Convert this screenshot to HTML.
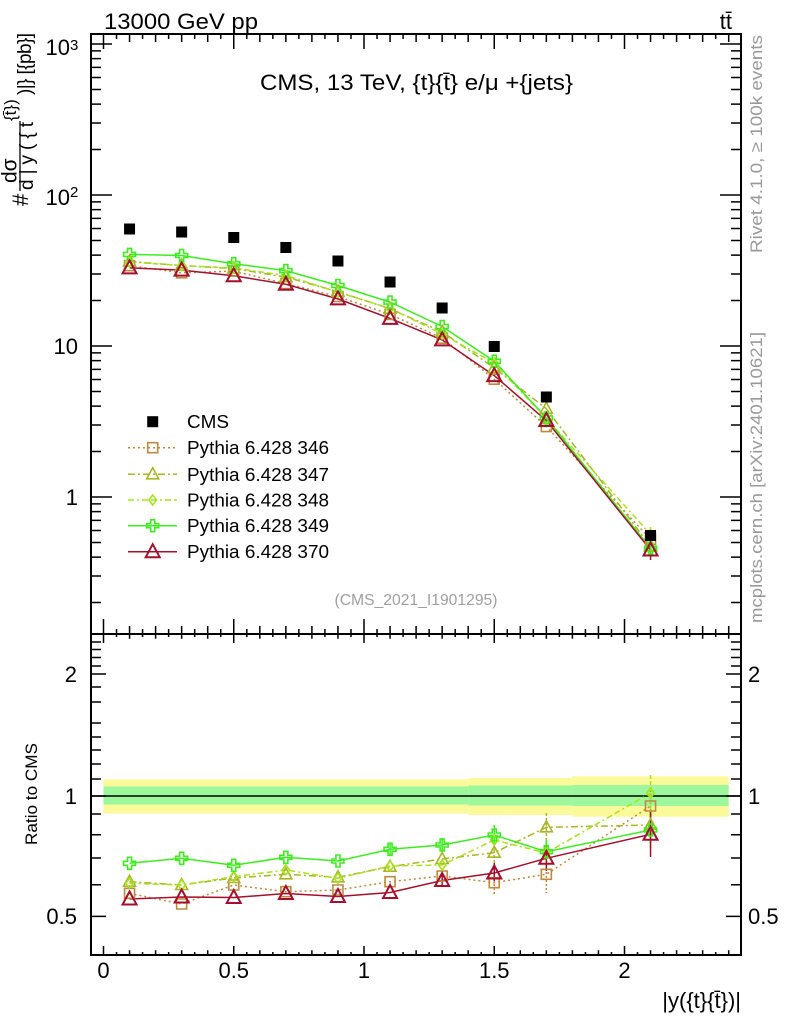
<!DOCTYPE html>
<html><head><meta charset="utf-8">
<style>
html,body{margin:0;padding:0;background:#fff}
svg{display:block}
text{font-family:"Liberation Sans",Arial,sans-serif}
</style></head>
<body>
<svg width="786" height="1024" viewBox="0 0 786 1024" xmlns="http://www.w3.org/2000/svg" xmlns:xlink="http://www.w3.org/1999/xlink">
<defs>
<path id="xt" d="M103.5 0v15M233.75 0v15M364 0v15M494.25 0v15M624.5 0v15M129.55 0v8M155.6 0v8M181.65 0v8M207.7 0v8M259.8 0v8M285.85 0v8M311.9 0v8M337.95 0v8M390.05 0v8M416.1 0v8M442.15 0v8M468.2 0v8M520.3 0v8M546.35 0v8M572.4 0v8M598.45 0v8M650.55 0v8M676.6 0v8M702.65 0v8M728.7 0v8M116.53 0v5M142.58 0v5M168.63 0v5M194.68 0v5M220.73 0v5M246.78 0v5M272.83 0v5M298.88 0v5M324.93 0v5M350.98 0v5M377.03 0v5M403.08 0v5M429.13 0v5M455.18 0v5M481.23 0v5M507.28 0v5M533.33 0v5M559.38 0v5M585.43 0v5M611.48 0v5M637.53 0v5M663.58 0v5M689.63 0v5M715.68 0v5" stroke="#000" stroke-width="1.5" fill="none"/>
<path id="yt" d="M0 44h21M0 195h21M0 346h21M0 497h21M0 50.91h10M0 58.63h10M0 67.39h10M0 77.5h10M0 89.46h10M0 104.09h10M0 122.95h10M0 149.55h10M0 201.91h10M0 209.63h10M0 218.39h10M0 228.5h10M0 240.46h10M0 255.09h10M0 273.95h10M0 300.55h10M0 352.91h10M0 360.63h10M0 369.39h10M0 379.5h10M0 391.46h10M0 406.09h10M0 424.95h10M0 451.55h10M0 503.91h10M0 511.63h10M0 520.39h10M0 530.5h10M0 542.46h10M0 557.09h10M0 575.95h10M0 602.55h10" stroke="#000" stroke-width="1.5" fill="none"/>
<path id="rt" d="M0 674h15M0 796h15M0 916.4h15M0 642h10M0 649.5h10M0 657.5h10M0 666h10M0 687h10M0 702h10M0 723h10M0 737h10M0 750h10M0 764h10M0 779h10M0 814h10M0 834.8h10M0 858h10M0 884.7h10" stroke="#000" stroke-width="1.5" fill="none"/>
<path id="mcms" d="M-5.5 -5.5h11v11h-11z" fill="#000"/>
<path id="m346" d="M-5 -5h10v10h-10z" fill="none" stroke="#bd8a3e" stroke-width="1.6"/>
<path id="m347" d="M0 -6.5L6 4.5L-6 4.5Z" fill="none" stroke="#a9b524" stroke-width="1.6"/>
<path id="m348" d="M0 -5L3.8 0L0 5L-3.8 0Z" fill="none" stroke="#a6e31e" stroke-width="1.6"/>
<path id="m349" d="M-2 -6h4v4h4v4h-4v4h-4v-4h-4v-4h4z" fill="none" stroke="#3ced1e" stroke-width="1.6"/>
<path id="m370" d="M0 -7.5L7 5.5L-7 5.5Z" fill="none" stroke="#a50f2d" stroke-width="2"/>
</defs>

<rect x="0" y="0" width="786" height="1024" fill="#fff"/>

<!-- ratio bands -->
<rect x="103.5" y="779.3" width="364.7" height="34.2" fill="#fbfa9a"/>
<rect x="468.2" y="778" width="104.2" height="37" fill="#fbfa9a"/>
<rect x="572.4" y="776.3" width="156.3" height="40.4" fill="#fbfa9a"/>
<rect x="103.5" y="786.5" width="364.7" height="18" fill="#9df79d"/>
<rect x="468.2" y="785.5" width="104.2" height="20" fill="#9df79d"/>
<rect x="572.4" y="785" width="156.3" height="21" fill="#9df79d"/>
<line x1="91" y1="796" x2="741" y2="796" stroke="#000" stroke-width="1.5"/>

<!-- frames -->
<rect x="91" y="34" width="650" height="600" fill="none" stroke="#000" stroke-width="2"/>
<rect x="91" y="634" width="650" height="321" fill="none" stroke="#000" stroke-width="2"/>

<!-- ticks -->
<use href="#xt" xlink:href="#xt" transform="translate(0,34)"/>
<use href="#xt" xlink:href="#xt" transform="translate(0,634) scale(1,-1)"/>
<use href="#xt" xlink:href="#xt" transform="translate(0,634) scale(1,0.6)"/>
<use href="#xt" xlink:href="#xt" transform="translate(0,955) scale(1,-0.6)"/>
<use href="#yt" xlink:href="#yt" transform="translate(91,0)"/>
<use href="#yt" xlink:href="#yt" transform="translate(741,0) scale(-1,1)"/>
<use href="#rt" xlink:href="#rt" transform="translate(91,0)"/>
<use href="#rt" xlink:href="#rt" transform="translate(741,0) scale(-1,1)"/>

<!-- tick labels -->
<g font-size="22" fill="#000">
<text x="70" y="55" text-anchor="end">10</text><text x="70" y="50" font-size="15">3</text>
<text x="70" y="205" text-anchor="end">10</text><text x="70" y="197" font-size="15">2</text>
<text x="78" y="354" text-anchor="end">10</text>
<text x="78" y="505" text-anchor="end">1</text>
<text x="77" y="682" text-anchor="end">2</text>
<text x="77" y="804" text-anchor="end">1</text>
<text x="77" y="924" text-anchor="end">0.5</text>
<text x="748" y="682">2</text>
<text x="748" y="804">1</text>
<text x="748" y="924">0.5</text>
<text x="103.5" y="978" text-anchor="middle">0</text>
<text x="233.75" y="978" text-anchor="middle">0.5</text>
<text x="364" y="978" text-anchor="middle">1</text>
<text x="494.25" y="978" text-anchor="middle">1.5</text>
<text x="624.5" y="978" text-anchor="middle">2</text>
<text x="741" y="1008" text-anchor="end">|y({t}{t̄})|</text>
</g>

<!-- titles -->
<text x="104" y="29" font-size="22" textLength="154" lengthAdjust="spacingAndGlyphs">13000 GeV pp</text>
<text x="732" y="29" font-size="22" text-anchor="end">tt̄</text>
<text x="260" y="90" font-size="22" textLength="313" lengthAdjust="spacingAndGlyphs">CMS, 13 TeV, {t}{t̄} e/μ +{jets}</text>
<text x="416" y="605" font-size="16" fill="#a0a0a0" text-anchor="middle" textLength="163" lengthAdjust="spacingAndGlyphs">(CMS_2021_I1901295)</text>

<!-- side texts -->
<text transform="translate(762,253) rotate(-90)" font-size="17" fill="#999" textLength="218" lengthAdjust="spacingAndGlyphs">Rivet 4.1.0, ≥ 100k events</text>
<text transform="translate(762,623) rotate(-90)" font-size="17" fill="#999" textLength="291" lengthAdjust="spacingAndGlyphs">mcplots.cern.ch [arXiv:2401.10621]</text>

<!-- y label main -->
<g transform="translate(0,207) rotate(-90)" fill="#000">
<text x="1" y="28" font-size="22">#</text>
<text x="24" y="16.5" font-size="21">dσ</text>
<line x1="16" y1="20" x2="86" y2="20" stroke="#000" stroke-width="1.3"/>
<text x="17" y="33" font-size="19" textLength="68" lengthAdjust="spacing">d|y({t</text>
<text x="86" y="16" font-size="17">{t̄})</text>
<text x="112" y="31" font-size="19" textLength="62" lengthAdjust="spacing">)|} [{pb}]</text>
</g>
<text transform="translate(37,794) rotate(-90)" font-size="17" text-anchor="middle" textLength="102" lengthAdjust="spacingAndGlyphs">Ratio to CMS</text>

<!-- main panel series -->
<g fill="none" stroke-width="1.5">
<polyline points="129.55,265.7 181.65,272.8 233.75,271.1 285.85,283.6 337.95,296.5 390.05,314.4 442.15,338.2 494.25,379.2 546.35,426.6 650.55,539.3" stroke="#bd8a3e" stroke-dasharray="2,3"/>
<polyline points="129.55,261.4 181.65,265.6 233.75,268.5 285.85,277.1 337.95,291.7 390.05,308.7 442.15,331.8 494.25,367.9 546.35,408.8 650.55,546.4" stroke="#a9b524" stroke-dasharray="7,3,2,3"/>
<polyline points="129.55,262 181.65,265.6 233.75,268 285.85,275.4 337.95,292.1 390.05,308.4 442.15,334 494.25,363.1 546.35,418.5 650.55,534.4" stroke="#a6e31e" stroke-dasharray="6,3,2,3,6,3"/>
<polyline points="129.55,254.4 181.65,255.5 233.75,263.7 285.85,270.6 337.95,285.5 390.05,302.1 442.15,326.5 494.25,361.2 546.35,418 650.55,548.3" stroke="#3ced1e"/>
<polyline points="129.55,267.9 181.65,270.1 233.75,275.8 285.85,284.3 337.95,298.9 390.05,318.4 442.15,339.9 494.25,375.6 546.35,420.5 650.55,550" stroke="#a50f2d"/>
<path d="M650.55 540v20" stroke="#a50f2d"/>
<path d="M650.55 542v13" stroke="#3ced1e"/>
<path d="M650.55 527v14" stroke="#a6e31e"/>
</g>
<g>
<use href="#m346" xlink:href="#m346" x="129.55" y="265.7"/><use href="#m346" xlink:href="#m346" x="181.65" y="272.8"/><use href="#m346" xlink:href="#m346" x="233.75" y="271.1"/><use href="#m346" xlink:href="#m346" x="285.85" y="283.6"/><use href="#m346" xlink:href="#m346" x="337.95" y="296.5"/><use href="#m346" xlink:href="#m346" x="390.05" y="314.4"/><use href="#m346" xlink:href="#m346" x="442.15" y="338.2"/><use href="#m346" xlink:href="#m346" x="494.25" y="379.2"/><use href="#m346" xlink:href="#m346" x="546.35" y="426.6"/><use href="#m346" xlink:href="#m346" x="650.55" y="539.3"/>
<use href="#m347" xlink:href="#m347" x="129.55" y="261.4"/><use href="#m347" xlink:href="#m347" x="181.65" y="265.6"/><use href="#m347" xlink:href="#m347" x="233.75" y="268.5"/><use href="#m347" xlink:href="#m347" x="285.85" y="277.1"/><use href="#m347" xlink:href="#m347" x="337.95" y="291.7"/><use href="#m347" xlink:href="#m347" x="390.05" y="308.7"/><use href="#m347" xlink:href="#m347" x="442.15" y="331.8"/><use href="#m347" xlink:href="#m347" x="494.25" y="367.9"/><use href="#m347" xlink:href="#m347" x="546.35" y="408.8"/><use href="#m347" xlink:href="#m347" x="650.55" y="546.4"/>
<use href="#m348" xlink:href="#m348" x="129.55" y="262"/><use href="#m348" xlink:href="#m348" x="181.65" y="265.6"/><use href="#m348" xlink:href="#m348" x="233.75" y="268"/><use href="#m348" xlink:href="#m348" x="285.85" y="275.4"/><use href="#m348" xlink:href="#m348" x="337.95" y="292.1"/><use href="#m348" xlink:href="#m348" x="390.05" y="308.4"/><use href="#m348" xlink:href="#m348" x="442.15" y="334"/><use href="#m348" xlink:href="#m348" x="494.25" y="363.1"/><use href="#m348" xlink:href="#m348" x="546.35" y="418.5"/><use href="#m348" xlink:href="#m348" x="650.55" y="534.4"/>
<use href="#m349" xlink:href="#m349" x="129.55" y="254.4"/><use href="#m349" xlink:href="#m349" x="181.65" y="255.5"/><use href="#m349" xlink:href="#m349" x="233.75" y="263.7"/><use href="#m349" xlink:href="#m349" x="285.85" y="270.6"/><use href="#m349" xlink:href="#m349" x="337.95" y="285.5"/><use href="#m349" xlink:href="#m349" x="390.05" y="302.1"/><use href="#m349" xlink:href="#m349" x="442.15" y="326.5"/><use href="#m349" xlink:href="#m349" x="494.25" y="361.2"/><use href="#m349" xlink:href="#m349" x="546.35" y="418"/><use href="#m349" xlink:href="#m349" x="650.55" y="548.3"/>
<use href="#m370" xlink:href="#m370" x="129.55" y="267.9"/><use href="#m370" xlink:href="#m370" x="181.65" y="270.1"/><use href="#m370" xlink:href="#m370" x="233.75" y="275.8"/><use href="#m370" xlink:href="#m370" x="285.85" y="284.3"/><use href="#m370" xlink:href="#m370" x="337.95" y="298.9"/><use href="#m370" xlink:href="#m370" x="390.05" y="318.4"/><use href="#m370" xlink:href="#m370" x="442.15" y="339.9"/><use href="#m370" xlink:href="#m370" x="494.25" y="375.6"/><use href="#m370" xlink:href="#m370" x="546.35" y="420.5"/><use href="#m370" xlink:href="#m370" x="650.55" y="550"/>
<use href="#mcms" xlink:href="#mcms" x="129.55" y="229"/><use href="#mcms" xlink:href="#mcms" x="181.65" y="232"/><use href="#mcms" xlink:href="#mcms" x="233.75" y="237.5"/><use href="#mcms" xlink:href="#mcms" x="285.85" y="247.5"/><use href="#mcms" xlink:href="#mcms" x="337.95" y="261"/><use href="#mcms" xlink:href="#mcms" x="390.05" y="282"/><use href="#mcms" xlink:href="#mcms" x="442.15" y="308"/><use href="#mcms" xlink:href="#mcms" x="494.25" y="346.5"/><use href="#mcms" xlink:href="#mcms" x="546.35" y="397"/><use href="#mcms" xlink:href="#mcms" x="650.55" y="535.5"/>
</g>

<!-- ratio series -->
<g fill="none" stroke-width="1.5">
<polyline points="129.55,893.3 181.65,904 233.75,885 285.85,891.7 337.95,890 390.05,881.7 442.15,876 494.25,882.7 546.35,874.3 650.55,806" stroke="#bd8a3e" stroke-dasharray="2,3"/>
<polyline points="129.55,881.7 181.65,885 233.75,878 285.85,874.3 337.95,877.3 390.05,866.7 442.15,859 494.25,852.7 546.35,827.3 650.55,825" stroke="#a9b524" stroke-dasharray="7,3,2,3"/>
<polyline points="129.55,883.3 181.65,885 233.75,876.7 285.85,870 337.95,878.3 390.05,866 442.15,865 494.25,840 546.35,853 650.55,793" stroke="#a6e31e" stroke-dasharray="6,3,2,3,6,3"/>
<polyline points="129.55,863.3 181.65,858.3 233.75,865.3 285.85,857.3 337.95,861 390.05,849.3 442.15,845 494.25,835 546.35,851.7 650.55,830" stroke="#3ced1e"/>
<polyline points="129.55,899 181.65,897 233.75,897.5 285.85,893.5 337.95,896.5 390.05,892.5 442.15,880.5 494.25,873 546.35,858.3 650.55,834.3" stroke="#a50f2d"/>
<path d="M494.25 860v36M546.35 856v37M650.55 790v60" stroke="#bd8a3e" stroke-dasharray="2,2"/>
<path d="M494.25 840v25M546.35 813v30M650.55 808v35" stroke="#a9b524" stroke-dasharray="3,2"/>
<path d="M494.25 828v24M546.35 842v22M650.55 775v50" stroke="#a6e31e" stroke-dasharray="4,2"/>
<path d="M390.05 844v11M442.15 838v14M494.25 825v20M546.35 840v24M650.55 812v36" stroke="#3ced1e"/>
<path d="M442.15 874v13M494.25 863v18M546.35 846v25M650.55 812v45" stroke="#a50f2d"/>
</g>
<g>
<use href="#m346" xlink:href="#m346" x="129.55" y="893.3"/><use href="#m346" xlink:href="#m346" x="181.65" y="904"/><use href="#m346" xlink:href="#m346" x="233.75" y="885"/><use href="#m346" xlink:href="#m346" x="285.85" y="891.7"/><use href="#m346" xlink:href="#m346" x="337.95" y="890"/><use href="#m346" xlink:href="#m346" x="390.05" y="881.7"/><use href="#m346" xlink:href="#m346" x="442.15" y="876"/><use href="#m346" xlink:href="#m346" x="494.25" y="882.7"/><use href="#m346" xlink:href="#m346" x="546.35" y="874.3"/><use href="#m346" xlink:href="#m346" x="650.55" y="806"/>
<use href="#m347" xlink:href="#m347" x="129.55" y="881.7"/><use href="#m347" xlink:href="#m347" x="181.65" y="885"/><use href="#m347" xlink:href="#m347" x="233.75" y="878"/><use href="#m347" xlink:href="#m347" x="285.85" y="874.3"/><use href="#m347" xlink:href="#m347" x="337.95" y="877.3"/><use href="#m347" xlink:href="#m347" x="390.05" y="866.7"/><use href="#m347" xlink:href="#m347" x="442.15" y="859"/><use href="#m347" xlink:href="#m347" x="494.25" y="852.7"/><use href="#m347" xlink:href="#m347" x="546.35" y="827.3"/><use href="#m347" xlink:href="#m347" x="650.55" y="825"/>
<use href="#m348" xlink:href="#m348" x="129.55" y="883.3"/><use href="#m348" xlink:href="#m348" x="181.65" y="885"/><use href="#m348" xlink:href="#m348" x="233.75" y="876.7"/><use href="#m348" xlink:href="#m348" x="285.85" y="870"/><use href="#m348" xlink:href="#m348" x="337.95" y="878.3"/><use href="#m348" xlink:href="#m348" x="390.05" y="866"/><use href="#m348" xlink:href="#m348" x="442.15" y="865"/><use href="#m348" xlink:href="#m348" x="494.25" y="840"/><use href="#m348" xlink:href="#m348" x="546.35" y="853"/><use href="#m348" xlink:href="#m348" x="650.55" y="793"/>
<use href="#m349" xlink:href="#m349" x="129.55" y="863.3"/><use href="#m349" xlink:href="#m349" x="181.65" y="858.3"/><use href="#m349" xlink:href="#m349" x="233.75" y="865.3"/><use href="#m349" xlink:href="#m349" x="285.85" y="857.3"/><use href="#m349" xlink:href="#m349" x="337.95" y="861"/><use href="#m349" xlink:href="#m349" x="390.05" y="849.3"/><use href="#m349" xlink:href="#m349" x="442.15" y="845"/><use href="#m349" xlink:href="#m349" x="494.25" y="835"/><use href="#m349" xlink:href="#m349" x="546.35" y="851.7"/><use href="#m349" xlink:href="#m349" x="650.55" y="830"/>
<use href="#m370" xlink:href="#m370" x="129.55" y="899"/><use href="#m370" xlink:href="#m370" x="181.65" y="897"/><use href="#m370" xlink:href="#m370" x="233.75" y="897.5"/><use href="#m370" xlink:href="#m370" x="285.85" y="893.5"/><use href="#m370" xlink:href="#m370" x="337.95" y="896.5"/><use href="#m370" xlink:href="#m370" x="390.05" y="892.5"/><use href="#m370" xlink:href="#m370" x="442.15" y="880.5"/><use href="#m370" xlink:href="#m370" x="494.25" y="873"/><use href="#m370" xlink:href="#m370" x="546.35" y="858.3"/><use href="#m370" xlink:href="#m370" x="650.55" y="834.3"/>
</g>

<!-- legend -->
<g fill="none" stroke-width="1.5">
<line x1="128" y1="447.7" x2="177" y2="447.7" stroke="#bd8a3e" stroke-dasharray="2,3"/>
<line x1="128" y1="474.3" x2="177" y2="474.3" stroke="#a9b524" stroke-dasharray="7,3,2,3"/>
<line x1="128" y1="500" x2="177" y2="500" stroke="#a6e31e" stroke-dasharray="6,3,2,3,6,3"/>
<line x1="128" y1="525.7" x2="177" y2="525.7" stroke="#3ced1e"/>
<line x1="128" y1="551.7" x2="177" y2="551.7" stroke="#a50f2d"/>
</g>
<use href="#mcms" xlink:href="#mcms" x="152.7" y="421.7"/>
<use href="#m346" xlink:href="#m346" x="152.7" y="447.7"/>
<use href="#m347" xlink:href="#m347" x="152.7" y="474.3"/>
<use href="#m348" xlink:href="#m348" x="152.7" y="500"/>
<use href="#m349" xlink:href="#m349" x="152.7" y="525.7"/>
<use href="#m370" xlink:href="#m370" x="152.7" y="551.7"/>
<g font-size="18.5" fill="#000">
<text x="187" y="428.2" textLength="42" lengthAdjust="spacingAndGlyphs">CMS</text>
<text x="187" y="454.2" textLength="142" lengthAdjust="spacingAndGlyphs">Pythia 6.428 346</text>
<text x="187" y="480.8" textLength="142" lengthAdjust="spacingAndGlyphs">Pythia 6.428 347</text>
<text x="187" y="506.5" textLength="142" lengthAdjust="spacingAndGlyphs">Pythia 6.428 348</text>
<text x="187" y="532.2" textLength="142" lengthAdjust="spacingAndGlyphs">Pythia 6.428 349</text>
<text x="187" y="558.2" textLength="142" lengthAdjust="spacingAndGlyphs">Pythia 6.428 370</text>
</g>
</svg>
</body></html>
